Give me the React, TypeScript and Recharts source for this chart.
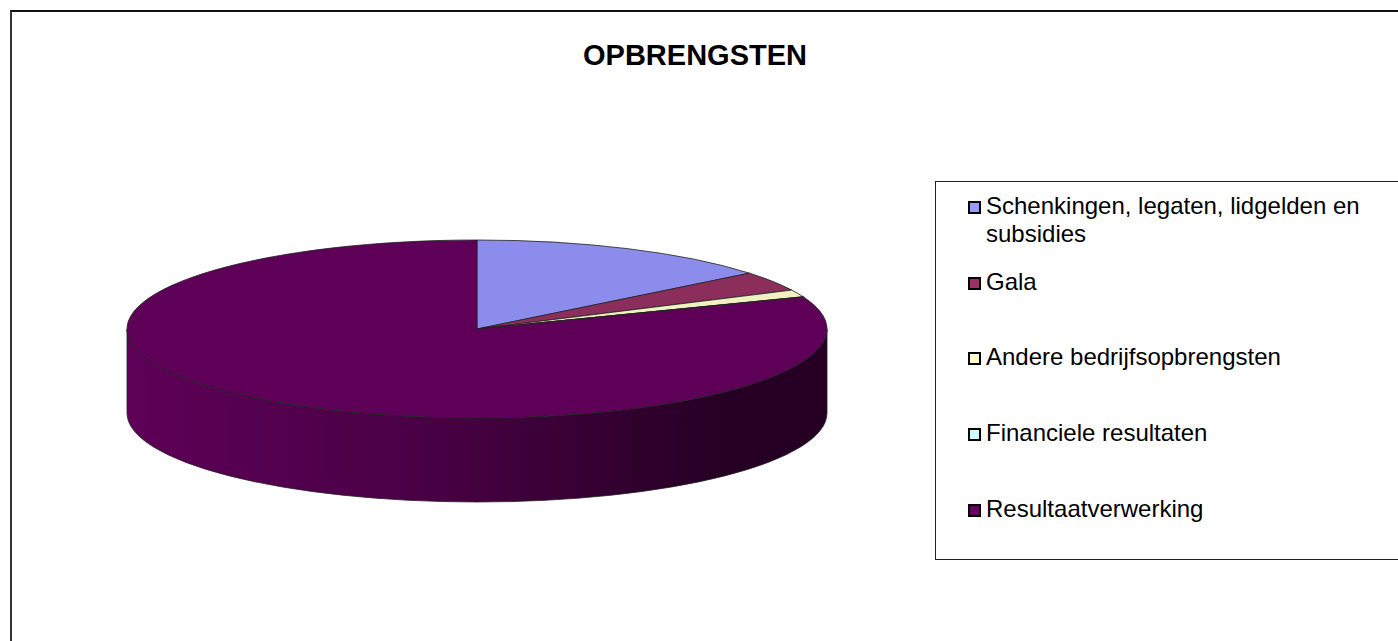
import { Legend, Pie, PieChart } from "recharts";

const categories = [
  "Schenkingen, legaten, lidgelden en subsidies",
  "Gala",
  "Andere bedrijfsopbrengsten",
  "Financiele resultaten",
  "Resultaatverwerking",
];
const shares = [14.2, 3.6, 1.3, 0.05, 80.85];
const topColors = ["#8b8ceb", "#8b2e5c", "#f0f0c0", "#ccffff", "#5e0058"];
const swatchColors = ["#9999ff", "#993366", "#ffffcc", "#ccffff", "#660066"];
const sideDark = ["#45457a", "#45162e", "#78785f", "#668080", "#260024"];

const data = categories.map((name, i) => ({ name, value: shares[i] }));

const CX = 477;
const CY = 329;
const RX = 350;
const RY = 89;
const DEPTH = 84;

const pt = (a: number, dy = 0) => {
  const r = (a * Math.PI) / 180;
  return [CX + RX * Math.cos(r), CY - RY * Math.sin(r) + dy];
};

function TopSlice(props: any) {
  const { startAngle, endAngle, index } = props;
  const [x1, y1] = pt(startAngle);
  const [x2, y2] = pt(endAngle);
  const large = Math.abs(startAngle - endAngle) > 180 ? 1 : 0;
  const d = `M${CX},${CY} L${x1},${y1} A${RX},${RY} 0 ${large} 1 ${x2},${y2} Z`;
  return <path d={d} fill={topColors[index]} stroke="#222" strokeWidth={0.8} strokeLinejoin="round" />;
}

function SideSlice(props: any) {
  const { startAngle, endAngle, index } = props;
  // visible front wall lies between -180 and 0 degrees
  const hi = Math.min(startAngle, 0);
  const lo = Math.max(endAngle, -180);
  if (hi <= lo) return <g />;
  const [x1, y1] = pt(hi);
  const [x2, y2] = pt(lo);
  const large = hi - lo > 180 ? 1 : 0;
  const d =
    `M${x1},${y1} A${RX},${RY} 0 ${large} 1 ${x2},${y2} ` +
    `L${x2},${y2 + DEPTH} A${RX},${RY} 0 ${large} 0 ${x1},${y1 + DEPTH} Z`;
  const id = `side-grad-${index}`;
  return (
    <g>
      <defs>
        <linearGradient id={id} gradientUnits="userSpaceOnUse" x1={CX - RX} y1={0} x2={CX + RX} y2={0}>
          <stop offset="0%" stopColor={topColors[index]} />
          <stop offset="45%" stopColor="#470043" />
          <stop offset="85%" stopColor={sideDark[index]} />
          <stop offset="100%" stopColor={sideDark[index]} />
        </linearGradient>
      </defs>
      <path d={d} fill={`url(#${id})`} stroke="#222" strokeWidth={0.8} />
    </g>
  );
}

const legendRows = [205, 281, 356, 432, 508];

function LegendBox() {
  return (
    <div
      style={{
        position: "absolute",
        left: 935,
        top: 181,
        width: 480,
        height: 379,
        border: "1px solid #222",
        boxSizing: "border-box",
        fontFamily: "'Liberation Sans', Arial, sans-serif",
        fontSize: 24,
        color: "#000",
      }}
    >
      {categories.map((name, i) => (
        <div
          key={name}
          style={{
            position: "absolute",
            left: 32,
            top: legendRows[i] - 181 - 14,
            width: 440,
            display: "flex",
            alignItems: "flex-start",
            lineHeight: "28px",
          }}
        >
          <span
            style={{
              display: "inline-block",
              width: 9,
              height: 9,
              marginTop: 9,
              marginRight: 5,
              background: swatchColors[i],
              border: "2px solid #000",
              flexShrink: 0,
            }}
          />
          <span style={{ width: 420 }}>{i === 0 ? (
            <>
              Schenkingen, legaten, lidgelden en
              <br />
              subsidies
            </>
          ) : name}</span>
        </div>
      ))}
    </div>
  );
}

export default function App() {
  return (
    <div style={{ position: "absolute", left: 0, top: 0, width: 1398, height: 641, background: "#fff", overflow: "hidden" }}>
      <div
        style={{
          position: "absolute",
          left: 10,
          top: 10,
          width: 1400,
          height: 640,
          borderLeft: "2px solid #333",
          borderTop: "2px solid #111",
        }}
      />
      <div
        style={{
          position: "absolute",
          left: 0,
          top: 38,
          width: 1390,
          textAlign: "center",
          fontFamily: "'Liberation Sans', Arial, sans-serif",
          fontWeight: "bold",
          fontSize: 29,
          lineHeight: "34px",
        }}
      >
        OPBRENGSTEN
      </div>
      <div style={{ position: "absolute", left: 0, top: 0 }}>
        <PieChart width={930} height={641}>
          <Pie
            data={data}
            dataKey="value"
            nameKey="name"
            cx={CX}
            cy={CY}
            outerRadius={RX}
            startAngle={90}
            endAngle={-270}
            isAnimationActive={false}
            shape={SideSlice}
            inactiveShape={SideSlice}
            activeShape={SideSlice}
            legendType="none"
          />
          <Pie
            data={data}
            dataKey="value"
            nameKey="name"
            cx={CX}
            cy={CY}
            outerRadius={RX}
            startAngle={90}
            endAngle={-270}
            isAnimationActive={false}
            shape={TopSlice}
            inactiveShape={TopSlice}
            activeShape={TopSlice}
          />
          <Legend content={() => null} />
        </PieChart>
      </div>
      <LegendBox />
    </div>
  );
}
